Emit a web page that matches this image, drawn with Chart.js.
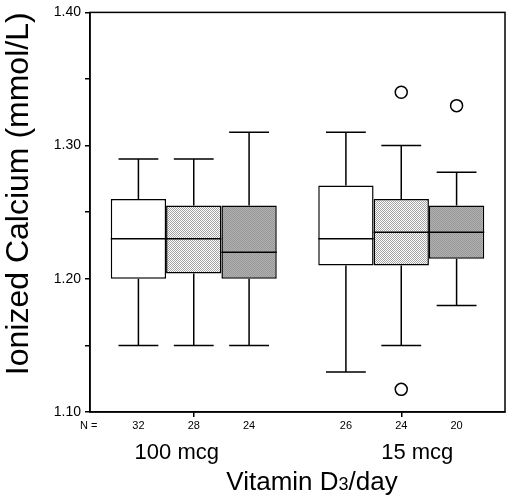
<!DOCTYPE html>
<html>
<head>
<meta charset="utf-8">
<script src="https://cdn.jsdelivr.net/npm/chart.js@4/dist/chart.umd.min.js"></script>
<style>
	html, body { margin: 0; padding: 0; background: #fff; }
	#wrap { width: 507px; height: 497px; }
</style>
</head>
<body>
<div id="wrap"><canvas id="boxChart"></canvas></div>
<script>
// groups on the x axis
const groups = ['100 mcg', '15 mcg'];

// one entry per box series, each holding [group 1, group 2]
const lowWhisker = [[1.15, 1.13], [1.15, 1.15], [1.15, 1.18]];
const q1 = [[1.20, 1.21], [1.204, 1.21], [1.20, 1.215]];
const medians = [[1.23, 1.23], [1.23, 1.235], [1.22, 1.235]];
const q3 = [[1.26, 1.27], [1.255, 1.26], [1.255, 1.255]];
const highWhisker = [[1.29, 1.31], [1.29, 1.30], [1.31, 1.28]];
const outliers = [[[], []], [[], [1.34, 1.117]], [[], [1.33]]];
const counts = [[32, 26], [28, 24], [24, 20]];

const yTicks = [1.10, 1.20, 1.30, 1.40];

function makePattern(a, b) {
	const c = document.createElement('canvas');
	c.width = 2;
	c.height = 2;
	const g = c.getContext('2d');
	g.fillStyle = a;
	g.fillRect(0, 0, 2, 2);
	g.fillStyle = b;
	g.fillRect(0, 0, 1, 1);
	g.fillRect(1, 1, 1, 1);
	return g.createPattern(c, 'repeat');
}

const fills = ['#ffffff', makePattern('#ffffff', '#a4a4a4'), makePattern('#b0b0b0', '#989898')];
const labelShift = [-17, 16];

const boxExtras = {
	id: 'boxExtras',
	afterDatasetsDraw(chart) {
		const ctx = chart.ctx;
		const y = chart.scales.y;
		const area = chart.chartArea;
		ctx.save();
		ctx.strokeStyle = '#000';
		ctx.lineWidth = 1.5;
		chart.data.datasets.forEach((ds, i) => {
			chart.getDatasetMeta(i).data.forEach((bar, j) => {
				const x = bar.x;
				const half = bar.width / 2;
				const cap = bar.width * 0.36;
				ctx.beginPath();
				ctx.moveTo(x, y.getPixelForValue(q3[i][j]));
				ctx.lineTo(x, y.getPixelForValue(highWhisker[i][j]));
				ctx.moveTo(x - cap, y.getPixelForValue(highWhisker[i][j]));
				ctx.lineTo(x + cap, y.getPixelForValue(highWhisker[i][j]));
				ctx.moveTo(x, y.getPixelForValue(q1[i][j]));
				ctx.lineTo(x, y.getPixelForValue(lowWhisker[i][j]));
				ctx.moveTo(x - cap, y.getPixelForValue(lowWhisker[i][j]));
				ctx.lineTo(x + cap, y.getPixelForValue(lowWhisker[i][j]));
				ctx.moveTo(x - half, y.getPixelForValue(medians[i][j]));
				ctx.lineTo(x + half, y.getPixelForValue(medians[i][j]));
				ctx.stroke();

				outliers[i][j].forEach(v => {
					ctx.beginPath();
					ctx.arc(x, y.getPixelForValue(v), 6, 0, Math.PI * 2);
					ctx.fillStyle = '#fff';
					ctx.fill();
					ctx.stroke();
				});

				ctx.fillStyle = '#000';
				ctx.font = '11px Arial';
				ctx.textAlign = 'center';
				ctx.textBaseline = 'middle';
				ctx.fillText(String(counts[i][j]), x, area.bottom + 14);
			});
		});
		ctx.strokeRect(area.left, area.top, area.right - area.left, area.bottom - area.top);

		ctx.fillStyle = '#000';
		ctx.textAlign = 'left';
		ctx.textBaseline = 'middle';
		ctx.font = '11px Arial';
		ctx.fillText('N =', area.left - 10, area.bottom + 14);

		ctx.font = '22px Arial';
		ctx.textAlign = 'center';
		ctx.textBaseline = 'alphabetic';
		const xs = chart.scales.x;
		groups.forEach((g, k) => {
			ctx.fillText(g, xs.getPixelForTick(k) + labelShift[k], area.bottom + 47);
		});

		// x title with a small 3
		const big = '26px Arial';
		const small = '18px Arial';
		ctx.font = big;
		const p1 = 'Vitamin D';
		const p3 = '/day';
		const w1 = ctx.measureText(p1).width;
		const w3 = ctx.measureText(p3).width;
		ctx.font = small;
		const w2 = ctx.measureText('3').width;
		let tx = 312 - (w1 + w2 + w3) / 2;
		const ty = area.bottom + 78;
		ctx.textAlign = 'left';
		ctx.font = big;
		ctx.fillText(p1, tx, ty);
		ctx.font = small;
		ctx.fillText('3', tx + w1, ty);
		ctx.font = big;
		ctx.fillText(p3, tx + w1 + w2, ty);
		ctx.restore();
	}
};

new Chart(document.getElementById('boxChart'), {
	type: 'bar',
	data: {
		labels: groups,
		datasets: fills.map((f, i) => ({
			data: q1[i].map((lo, j) => [lo, q3[i][j]]),
			backgroundColor: f,
			borderColor: '#000',
			borderWidth: 1.5,
			borderSkipped: false,
			categoryPercentage: 0.8,
			barPercentage: 1.0
		}))
	},
	options: {
		responsive: true,
		maintainAspectRatio: false,
		animation: false,
		layout: { padding: { top: 12, right: 2, left: 0, bottom: 0 } },
		plugins: { legend: { display: false }, tooltip: { enabled: false } },
		scales: {
			x: {
				afterFit(scale) { scale.height = 85; },
				grid: { drawOnChartArea: false, offset: false, tickLength: 5, color: '#000', lineWidth: 1.5 },
				border: { color: '#000', width: 1.5 },
				ticks: { display: false }
			},
			y: {
				min: 1.1,
				max: 1.4,
				afterFit(scale) { scale.width = 90; },
				grid: { drawOnChartArea: false, tickLength: 5, color: '#000', lineWidth: 1.5 },
				border: { color: '#000', width: 1.5 },
				ticks: {
					stepSize: 0.05,
					color: '#000',
					padding: 4,
					font: { family: 'Arial', size: 14 },
					callback: v => {
						const t = yTicks.find(k => Math.abs(k - v) < 1e-6);
						return t === undefined ? '' : t.toFixed(2);
					}
				},
				title: {
					display: true,
					text: 'Ionized Calcium (mmol/L)',
					align: 'end',
					color: '#000',
					font: { family: 'Arial', size: 32 },
					padding: { top: 0, bottom: 0 }
				}
			}
		}
	},
	plugins: [boxExtras]
});
</script>
</body>
</html>
